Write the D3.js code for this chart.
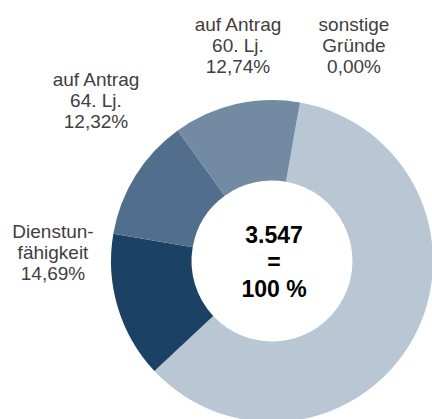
<!DOCTYPE html>
<html>
<head>
<meta charset="utf-8">
<script src="https://cdn.jsdelivr.net/npm/d3@7"></script>
<style>
  body { margin: 0; background: #fff; }
  svg { display: block; }
</style>
</head>
<body>
<div id="chart"></div>
<script>
// share of retirements by reason (percent)
var categories = ["Altersgrenze", "Dienstunfähigkeit", "auf Antrag 64. Lj.", "auf Antrag 60. Lj.", "sonstige Gründe"];
var values = [60.25, 14.69, 12.32, 12.74, 0.00];
var labelLines = [
	null,
	["Dienstun-", "fähigkeit"],
	["auf Antrag", "64. Lj."],
	["auf Antrag", "60. Lj."],
	["sonstige", "Gründe"]
];
var total = "3.547";

var width = 432, height = 419;
var cx = 272, cy = 261;
var outerR = 161, innerR = 80.5;
var colors = ["#b9c6d3", "#1b4265", "#516f8c", "#738ba2", "#97a9bb"];
// label anchor (middle line baseline) per slice
var labelAt = [null, [53, 259], [96, 106.5], [238, 51.5], [354, 51.5]];

var svg = d3.select("#chart").append("svg")
	.attr("width", width)
	.attr("height", height);

var startA = 10 * Math.PI / 180;
var pie = d3.pie()
	.sort(null)
	.startAngle(startA)
	.endAngle(startA + 2 * Math.PI)
	.value(function(d) { return d; });

var arc = d3.arc()
	.innerRadius(innerR)
	.outerRadius(outerR);

var arcs = pie(values);

var donut = svg.append("g")
	.attr("transform", "translate(" + cx + "," + cy + ")");

donut.selectAll("path")
	.data(arcs)
	.enter()
	.append("path")
	.attr("d", arc)
	.attr("fill", function(d, i) { return colors[i]; })
	.attr("stroke", "none");

var fmt = function(v) { return v.toFixed(2).replace(".", ",") + "%"; };

var labels = svg.selectAll("text.slice-label")
	.data(arcs.filter(function(d) { return labelLines[d.index]; }))
	.enter()
	.append("text")
	.attr("class", "slice-label")
	.attr("text-anchor", "middle")
	.attr("font-family", "Liberation Sans, Arial, sans-serif")
	.attr("font-size", 19)
	.attr("fill", "#404040");

labels.each(function(d) {
	var lines = labelLines[d.index].concat([fmt(d.data)]);
	var pos = labelAt[d.index];
	d3.select(this).selectAll("tspan")
		.data(lines)
		.enter()
		.append("tspan")
		.attr("x", pos[0])
		.attr("y", function(l, j) { return pos[1] + (j - 1) * 21; })
		.text(function(l) { return l; });
});

var center = svg.append("text")
	.attr("text-anchor", "middle")
	.attr("font-family", "Liberation Sans, Arial, sans-serif")
	.attr("font-size", 23)
	.attr("font-weight", "bold")
	.attr("fill", "#000");
[total, "=", "100 %"].forEach(function(t, j) {
	center.append("tspan")
		.attr("x", cx + 2)
		.attr("y", 243 + j * 27)
		.text(t);
});
</script>
</body>
</html>
